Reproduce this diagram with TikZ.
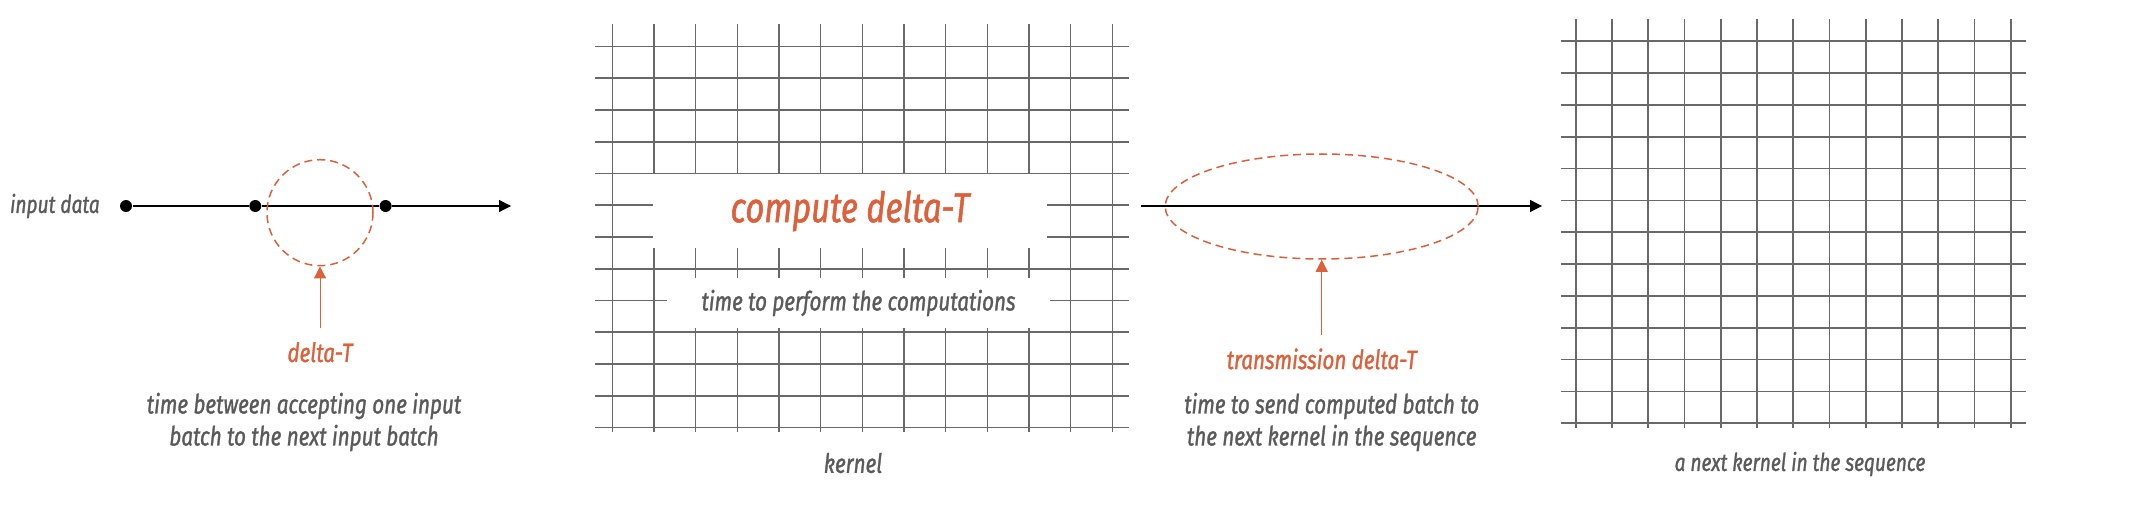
\documentclass[tikz,border=0pt]{standalone}
\usepackage{fontspec}
\setmainfont{Fira Sans}[FakeStretch=0.78, FakeBold=1.2]
\usetikzlibrary{positioning, arrows.meta, shapes.geometric}
\definecolor{txtgray}{RGB}{90,90,90}
\definecolor{gridgray}{RGB}{105,105,105}
\definecolor{dtorange}{RGB}{222,96,58}
\tikzset{
  lbl/.style={inner sep=0pt, text=txtgray, font=\fontsize{26.5}{32}\selectfont\itshape, align=center},
  small/.style={font=\fontsize{24.5}{32}\selectfont\itshape},
  olbl/.style={lbl, text=dtorange},
  dot/.style={circle, fill=black, inner sep=0pt, minimum size=12pt},
  ring/.style={draw=dtorange, line width=1.5pt, dash pattern=on 8pt off 5pt, inner sep=0pt},
  gridline/.style={draw=gridgray, line width=1.6pt},
  hole/.style={fill=white}
}
\begin{document}
\begin{tikzpicture}[x=1pt, y=1pt, >={Triangle[length=12pt, width=12pt]}, line width=1.3pt]
  \useasboundingbox (0,0) rectangle (2140,504);
  \foreach \i in {0,...,12}
    \draw[gridline] (612.3+41.67*\i,71.7) -- (612.3+41.67*\i,480);
  \foreach \j in {0,...,12}
    \draw[gridline] (595,457.5-31.75*\j) -- (1129,457.5-31.75*\j);
  \foreach \i in {0,...,12}
    \draw[gridline] (1575.7+36.25*\i,76.3) -- (1575.7+36.25*\i,484.7);
  \foreach \j in {0,...,12}
    \draw[gridline] (1560.7,462.7-31.83*\j) -- (2025.7,462.7-31.83*\j);

  \node[lbl, hole, text=dtorange, minimum width=394pt, minimum height=74pt,
    font=\fontsize{42}{50}\selectfont\itshape] (cdt) at (850,293) {compute delta-T};
  \node[lbl, hole, minimum width=383pt, minimum height=50pt] (ttp) at (858.5,201) {time to perform the computations};
  \node[lbl] (ker) at (853,41) {kernel};
  \node[lbl, small] (nk) at (1800,40) {a next kernel in the sequence};

  \node[dot] (p1) at (126,298) {};
  \node[dot, right=116pt of p1] (p2) {};
  \node[dot, right=117pt of p2] (p3) {};
  \node[lbl, small, left=19pt of p1] (in) {input data};
  \coordinate (e1) at (511,298);
  \draw[->] (p1) -- (p2) -- (p3) -- (e1);
  \node[ring, circle, minimum size=106pt] (dt) at (320,291.3) {};
  \node[olbl, below=75pt of dt] (dtl) {delta-T};
  \draw[->, dtorange, line width=1pt, shorten <=13pt] (dtl) -- (dt);
  \node[lbl] (dtd) at (304,82) {time between accepting one input\\batch to the next input batch};

  \coordinate (s2) at (1141,298);
  \coordinate (e2) at (1542,298);
  \draw[->] (s2) -- (e2);
  \node[ring, ellipse, minimum width=313pt, minimum height=105pt] (tx) at (1321.7,297.5) {};
  \node[olbl, below=88pt of tx] (txl) {transmission delta-T};
  \draw[->, dtorange, line width=1pt, shorten <=13pt] (txl) -- (tx);
  \node[lbl] (txd) at (1331.7,82) {time to send computed batch to\\the next kernel in the sequence};
\end{tikzpicture}
\end{document}
